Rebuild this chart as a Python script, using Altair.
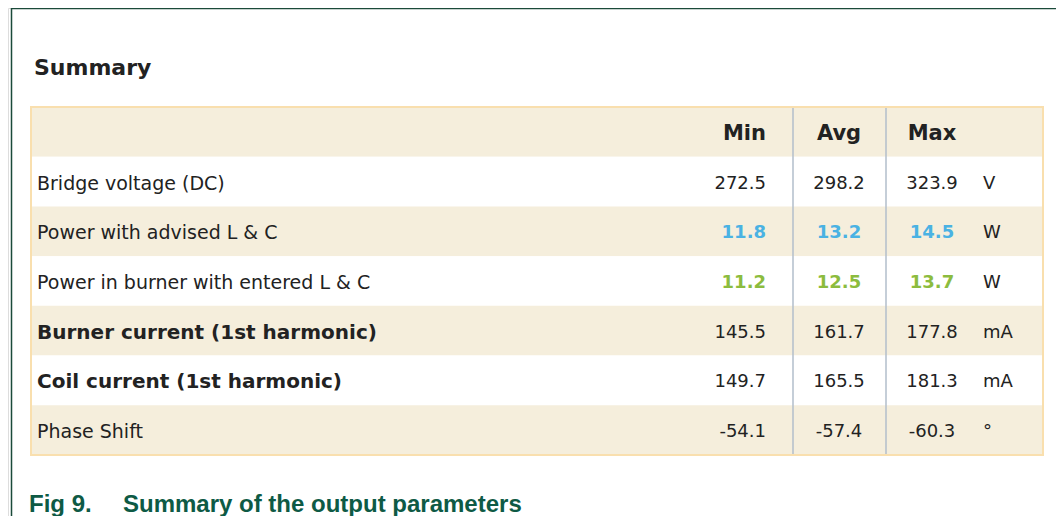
import altair as alt
import pandas as pd

# ---- data ----
header_labels = ["Min", "Avg", "Max"]
row_labels = [
    "Bridge voltage (DC)",
    "Power with advised L & C",
    "Power in burner with entered L & C",
    "Burner current (1st harmonic)",
    "Coil current (1st harmonic)",
    "Phase Shift",
]
row_kind = ["plain", "advised", "entered", "plain", "plain", "plain"]
row_emphasis = ["normal", "normal", "normal", "bold", "bold", "normal"]
min_vals = [272.5, 11.8, 11.2, 145.5, 149.7, -54.1]
avg_vals = [298.2, 13.2, 12.5, 161.7, 165.5, -57.4]
max_vals = [323.9, 14.5, 13.7, 177.8, 181.3, -60.3]
units = ["V", "W", "W", "mA", "mA", "\u00b0"]
title_text = "Summary"
caption_num = "Fig 9."
caption_text = "Summary of the output parameters"

# ---- tables ----
n = len(row_labels)
rows = pd.DataFrame({
    "row": list(range(1, n + 1)),
    "label": row_labels,
    "kind": row_kind,
    "emph": row_emphasis,
    "min": [f"{v:.1f}" for v in min_vals],
    "avg": [f"{v:.1f}" for v in avg_vals],
    "max": [f"{v:.1f}" for v in max_vals],
    "unit": units,
})
all_rows = pd.DataFrame({"row": list(range(0, n + 1))})
all_rows["shade"] = ["white" if r % 2 else "beige" for r in all_rows["row"]]
head = pd.DataFrame({"row": [0], "h0": [header_labels[0]], "h1": [header_labels[1]], "h2": [header_labels[2]]})
one = pd.DataFrame({"k": [0]})

TXT = "#222222"
FONT = "DejaVu Sans"
DY = 2
yscale = alt.Scale(domain=list(range(0, n + 1)), range=[99, 447], paddingInner=0, paddingOuter=0)
Y = alt.Y("row:O", scale=yscale, axis=None)
tscale = alt.Scale(domain=list(range(0, n + 1)), range=[100.5, 443], paddingInner=0, paddingOuter=0)
TY = alt.Y("row:O", scale=tscale, axis=None)
color_scale = alt.Scale(domain=["plain", "advised", "entered"], range=[TXT, "#4AB2E3", "#8CBC3E"])
shade_scale = alt.Scale(domain=["beige", "white"], range=["#F5EEDC", "#FFFFFF"])

bg = alt.Chart(all_rows).mark_rect().encode(
    y=Y, x=alt.value(23), x2=alt.value(1035),
    fill=alt.Fill("shade:N", scale=shade_scale, legend=None),
)
border = alt.Chart(one).mark_rect(fill=None, stroke="#F9DFAE", strokeWidth=2).encode(
    x=alt.value(23), x2=alt.value(1035), y=alt.value(99), y2=alt.value(447)
)
sep1 = alt.Chart(one).mark_rule(color="#B2BECB", strokeWidth=1.5).encode(
    x=alt.value(785), y=alt.value(100), y2=alt.value(446)
)
sep2 = alt.Chart(one).mark_rule(color="#B2BECB", strokeWidth=1.5).encode(
    x=alt.value(878), y=alt.value(100), y2=alt.value(446)
)
frame_top = alt.Chart(one).mark_rule(color="#1B4A3A", strokeWidth=1.5).encode(
    x=alt.value(3), x2=alt.value(1048), y=alt.value(0.5)
)
frame_left = alt.Chart(one).mark_rule(color="#1B4A3A", strokeWidth=1.5).encode(
    x=alt.value(3.5), y=alt.value(0), y2=alt.value(508)
)

def hdr(field, x, align):
    return alt.Chart(head).mark_text(font=FONT, fontWeight="bold", fontSize=21, align=align,
                                     baseline="middle", dy=DY, color=TXT).encode(
        y=TY, x=alt.value(x), text=f"{field}:N")

h_min = hdr("h0", 758, "right")
h_avg = hdr("h1", 831, "center")
h_max = hdr("h2", 924, "center")

def vals(field, x, align, weight, kinds):
    return alt.Chart(rows).transform_filter(
        alt.FieldOneOfPredicate(field="kind", oneOf=kinds)
    ).mark_text(font=FONT, fontSize=18, fontWeight=weight, align=align, baseline="middle", dy=DY).encode(
        y=TY, x=alt.value(x), text=f"{field}:N",
        color=alt.Color("kind:N", scale=color_scale, legend=None))

value_layers = []
for field, x, align in [("min", 758, "right"), ("avg", 831, "center"), ("max", 924, "center")]:
    value_layers.append(vals(field, x, align, "normal", ["plain"]))
    value_layers.append(vals(field, x, align, "bold", ["advised", "entered"]))

unit_layer = alt.Chart(rows).mark_text(font=FONT, fontSize=18, align="left", baseline="middle", dy=DY,
                                       color=TXT).encode(
    y=TY, x=alt.value(975), text="unit:N")

label_norm = alt.Chart(rows).transform_filter(alt.datum.emph == "normal").mark_text(
    font=FONT, fontSize=19, align="left", baseline="middle", dy=DY, color=TXT).encode(
    y=TY, x=alt.value(29), text="label:N")
label_bold = alt.Chart(rows).transform_filter(alt.datum.emph == "bold").mark_text(
    font=FONT, fontSize=20, fontWeight="bold", align="left", baseline="middle", dy=DY, color=TXT).encode(
    y=TY, x=alt.value(29), text="label:N")

title_df = pd.DataFrame({"t": [title_text]})
title_layer = alt.Chart(title_df).mark_text(font=FONT, fontSize=22, fontWeight="bold", align="left",
                                            baseline="alphabetic", color=TXT).encode(
    x=alt.value(26), y=alt.value(67), text="t:N")

cap_df = pd.DataFrame({"a": [caption_num], "b": [caption_text]})
CAPC = "#0E5A45"
cap1 = alt.Chart(cap_df).mark_text(font="Liberation Sans", fontSize=24, fontWeight="bold", align="left",
                                   baseline="alphabetic", color=CAPC).encode(
    x=alt.value(21), y=alt.value(504), text="a:N")
cap2 = alt.Chart(cap_df).mark_text(font="Liberation Sans", fontSize=24, fontWeight="bold", align="left",
                                   baseline="alphabetic", color=CAPC).encode(
    x=alt.value(115), y=alt.value(504), text="b:N")

chart = alt.layer(
    bg, border, sep1, sep2, frame_top, frame_left,
    h_min, h_avg, h_max, *value_layers, unit_layer, label_norm, label_bold,
    title_layer, cap1, cap2,
).properties(
    width=1048, height=508,
    autosize=alt.AutoSizeParams(type="none"), padding=0,
).configure_view(stroke=None).configure(background="white")

chart.save("out.html", embed_options={"renderer": "svg", "actions": False})
